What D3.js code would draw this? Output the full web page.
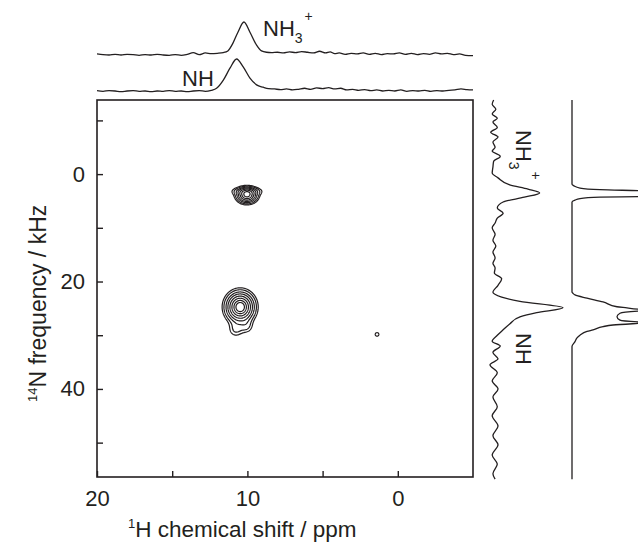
<!DOCTYPE html>
<html>
<head>
<meta charset="utf-8">
<script src="https://cdn.jsdelivr.net/npm/d3@7/dist/d3.min.js"></script>
<style>
  body { margin: 0; background: #fff; }
  text { font-family: "Liberation Sans", Arial, sans-serif; fill: #231f20; }
</style>
</head>
<body>
<script>

// axis ticks
var xTicks = [20, 10, 0]
var xMinor = [15, 5]
var yTicks = [0, 20, 40]
var yMinor = [-10, 10, 30, 50]

// 1H projection, NH3+ slice (ppm, intensity in % of peak)
var nh3TopPpm = [20, 19.6, 19.2, 18.8, 18.4, 18.0, 17.6, 17.2, 16.8, 16.4, 16.0, 15.6, 15.2, 14.8, 14.4, 14.0, 13.6, 13.2, 12.8, 12.4, 12.0, 11.6, 11.3, 10.96, 10.63, 10.23, 9.83, 9.39, 9.06, 8.73, 8.4, 8.0, 7.6, 7.2, 6.8, 6.4, 6.0, 5.6, 5.2, 4.8, 4.5, 4.2, 3.9, 3.5, 3.1, 2.7, 2.3, 1.9, 1.5, 1.1, 0.7, 0.3, -0.1, -0.5, -0.9, -1.3, -1.7, -2.1, -2.5, -2.9, -3.3, -3.7, -4.1, -4.5, -5.0]
var nh3TopInt = [6, 4, 3, 5, 3, 5, 4, 2, 4, 3, 5, 3, 2, 4, 2, 5, 10, 4, 9, 7, 8, 10, 15, 38, 70, 100, 70, 32, 15, 11, 10, 11, 9, 12, 10, 13, 11, 9, 14, 9, 12, 7, 9, 5, 8, 6, 9, 5, 8, 4, 7, 6, 9, 5, 8, 4, 7, 5, 9, 6, 8, 4, 6, 2, 1]

// 1H projection, NH slice
var nhTopPpm = [20, 19.6, 19.2, 18.8, 18.4, 18.0, 17.6, 17.2, 16.8, 16.4, 16.0, 15.6, 15.2, 14.8, 14.4, 14.0, 13.6, 13.2, 12.8, 12.4, 12.05, 11.6, 11.16, 10.72, 10.28, 9.83, 9.39, 8.95, 8.6, 8.2, 7.8, 7.4, 7.0, 6.6, 6.2, 5.8, 5.4, 5.0, 4.6, 4.2, 3.8, 3.4, 3.0, 2.6, 2.2, 1.8, 1.4, 1.0, 0.6, 0.2, -0.2, -0.6, -1.0, -1.4, -1.8, -2.2, -2.6, -3.0, -3.4, -3.8, -4.2, -4.6, -5.0]
var nhTopInt = [4, 2, 4, 3, 1, 3, 4, 2, 3, 1, 3, 2, 4, 2, 3, 1, 3, 4, 2, 5, 11, 35, 70, 97, 74, 41, 21, 14, 10, 9, 7, 9, 6, 8, 11, 8, 12, 10, 13, 9, 11, 6, 8, 5, 7, 4, 6, 3, 5, 3, 6, 2, 4, 3, 5, 2, 4, 3, 5, 6, 9, 7, 6]

// 14N projection, summed (kHz, intensity)
var sumKhz = [-13.8, -13.0, -12.1, -11.2, -10.4, -9.7, -8.7, -7.8, -6.9, -6.0, -5.0, -4.3, -3.3, -2.4, -1.3, -0.2, 0.7, 2.0, 2.8, 3.5, 4.3, 5.2, 6.3, 7.3, 8.2, 9.1, 10.0, 11.2, 12.3, 13.4, 14.5, 15.6, 16.6, 17.5, 18.4, 19.5, 20.7, 22.0, 22.9, 23.7, 24.9, 25.8, 26.6, 27.9, 29.0, 30.0, 31.1, 32.0, 33.2, 34.4, 35.5, 37.0, 38.5, 40.0, 41.5, 43.3, 45.0, 46.9, 48.7, 50.4, 52.3, 54.0, 55.8, 56.8]
var sumInt = [5, 3, 8, 3, 10, 4, 10, 1, 11, 4, 7, 3, 14, 5, 4, 3, 11, 27, 52, 68, 47, 18, 10, 18, 10, 7, 3, 7, 4, 8, 4, 7, 4, 7, 6, 16, 11, 4, 16, 41, 100, 64, 41, 27, 18, 10, 3, 14, 4, 11, 0, 10, 3, 11, 4, 10, 3, 11, 4, 11, 3, 10, 4, 7]

// 14N projection, 1D reference spectrum
var refKhz = [-13.8, 1.9, 2.2, 2.6, 2.9, 3.07, 3.63, 4.19, 4.3, 4.56, 4.84, 5.2, 21.95, 22.2, 22.5, 23.1, 23.8, 24.7, 24.9, 25.15, 25.3, 25.5, 25.9, 26.55, 27.2, 27.5, 27.6, 27.8, 28.1, 28.4, 29.0, 29.3, 30.0, 30.5, 31.2, 32.1, 56.8]
var refInt = [0, 0, 2, 8, 28, 66, 150, 66, 28, 8, 3, 0, 0, 1, 3, 15, 31, 45, 55, 66, 90, 66, 48, 45, 48, 66, 85, 66, 41, 31, 21, 15, 8, 5, 3, 0, 0]

// 2D peaks (ppm, kHz, widths, heights) and contour levels
var peakPpm = [10.05, 10.05, 10.5, 10.8, 10.05, 1.4]
var peakKhz = [3.9, 3.1, 24.7, 29.0, 28.4, 29.8]
var peakWPpm = [0.42, 0.75, 0.57, 0.35, 0.3, 0.17]
var peakWKhz = [0.9, 0.5, 1.7, 1.0, 0.9, 0.46]
var peakAmp = [62, 14, 78, 12, 10, 11]
var levels = [8.5, 13, 20, 28, 38, 49, 60, 69]

var ink = "#231f20"
var font = "Liberation Sans, Arial, sans-serif"

var svg = d3.select("body")
  .append("svg")
  .attr("width", 638)
  .attr("height", 546)

var x = d3.scaleLinear().domain([20, -5]).range([97, 473])
var y = d3.scaleLinear().domain([-13.8, 56.4]).range([100, 477])

// contour grid
var dp = 0.04, dk = 0.1
var nx = Math.round(25 / dp) + 1
var ny = Math.round(70.2 / dk) + 1
var grid = new Float64Array(nx * ny)
for (var j = 0; j < ny; j++) {
  var k = -13.8 + j * dk
  for (var i = 0; i < nx; i++) {
    var p = 20 - i * dp
    var s = 0
    for (var n = 0; n < peakAmp.length; n++) {
      var a = (p - peakPpm[n]) / peakWPpm[n]
      var b = (k - peakKhz[n]) / peakWKhz[n]
      s += peakAmp[n] * Math.exp(-0.5 * (a * a + b * b))
    }
    grid[i + j * nx] = s
  }
}

var toPlot = d3.geoTransform({
  point: function (gx, gy) {
    this.stream.point(x(20 - gx * dp), y(-13.8 + gy * dk))
  }
})

svg.append("g")
  .selectAll("path")
  .data(d3.contours().size([nx, ny]).thresholds(levels)(grid))
  .enter()
  .append("path")
  .attr("d", d3.geoPath(toPlot))
  .attr("fill", "none")
  .attr("stroke", ink)
  .attr("stroke-width", 1.2)

// frame
svg.append("rect")
  .attr("x", x(20)).attr("y", y(-13.8))
  .attr("width", x(-5) - x(20)).attr("height", y(56.4) - y(-13.8))
  .attr("fill", "none").attr("stroke", ink).attr("stroke-width", 1.6)

// ticks point inward
var xAxis = d3.axisBottom(x).tickValues(xTicks.concat(xMinor)).tickSize(-6)
  .tickFormat(function (d) { return xTicks.indexOf(d) >= 0 ? d : "" })
var gx = svg.append("g").attr("transform", "translate(0," + y(56.4) + ")").call(xAxis)
gx.select(".domain").remove()
gx.selectAll("line").attr("stroke", ink).attr("stroke-width", 1.4)
gx.selectAll("text").attr("font-size", 22).attr("dy", "1.2em").attr("fill", ink)
  .style("font-family", font)

var yAxis = d3.axisLeft(y).tickValues(yTicks.concat(yMinor)).tickSize(-6)
  .tickFormat(function (d) { return yTicks.indexOf(d) >= 0 ? d : "" })
var gy = svg.append("g").attr("transform", "translate(" + x(20) + ",0)").call(yAxis)
gy.select(".domain").remove()
gy.selectAll("line").attr("stroke", ink).attr("stroke-width", 1.4)
gy.selectAll("text").attr("font-size", 22).attr("x", -12).attr("fill", ink)
  .style("font-family", font)

// axis titles
var xt = svg.append("text").attr("x", 128).attr("y", 537).attr("font-size", 22.5)
xt.append("tspan").attr("font-size", 13).attr("dy", -9).text("1")
xt.append("tspan").attr("dy", 9).text("H chemical shift / ppm")

var yt = svg.append("text").attr("transform", "translate(46,402) rotate(-90)").attr("font-size", 23)
yt.append("tspan").attr("font-size", 13).attr("dy", -9).text("14")
yt.append("tspan").attr("dy", 9).text("N frequency / kHz")

// top projections
var yUp = d3.scaleLinear().domain([0, 100]).range([56, 22])
var yLo = d3.scaleLinear().domain([0, 100]).range([92, 58])

svg.append("path")
  .datum(d3.zip(nh3TopPpm, nh3TopInt))
  .attr("d", d3.line().x(function (d) { return x(d[0]) }).y(function (d) { return yUp(d[1]) }).curve(d3.curveMonotoneX))
  .attr("fill", "none").attr("stroke", ink).attr("stroke-width", 1.3)

svg.append("path")
  .datum(d3.zip(nhTopPpm, nhTopInt))
  .attr("d", d3.line().x(function (d) { return x(d[0]) }).y(function (d) { return yLo(d[1]) }).curve(d3.curveMonotoneX))
  .attr("fill", "none").attr("stroke", ink).attr("stroke-width", 1.3)

// right projections
var xSum = d3.scaleLinear().domain([0, 100]).range([490, 563])
var xRef = d3.scaleLinear().domain([0, 100]).range([572, 672])

svg.append("path")
  .datum(d3.zip(sumKhz, sumInt))
  .attr("d", d3.line().x(function (d) { return xSum(d[1]) }).y(function (d) { return y(d[0]) }).curve(d3.curveMonotoneY))
  .attr("fill", "none").attr("stroke", ink).attr("stroke-width", 1.3)

svg.append("path")
  .datum(d3.zip(refKhz, refInt))
  .attr("d", d3.line().x(function (d) { return xRef(d[1]) }).y(function (d) { return y(d[0]) }).curve(d3.curveMonotoneY))
  .attr("fill", "none").attr("stroke", ink).attr("stroke-width", 1.3)

// peak labels
var l1 = svg.append("text").attr("x", 263).attr("y", 36).attr("font-size", 22)
l1.append("tspan").text("NH")
l1.append("tspan").attr("font-size", 14).attr("dy", 7).text("3")
l1.append("tspan").attr("font-size", 14).attr("dy", -22).attr("dx", 2).text("+")

svg.append("text").attr("x", 182).attr("y", 86).attr("font-size", 22).text("NH")

var l2 = svg.append("text").attr("transform", "translate(516,130) rotate(90)").attr("font-size", 22)
l2.append("tspan").text("NH")
l2.append("tspan").attr("font-size", 14).attr("dy", 7).text("3")
l2.append("tspan").attr("font-size", 14).attr("dy", -22).attr("dx", 2).text("+")

svg.append("text").attr("transform", "translate(516,333) rotate(90)").attr("font-size", 22).text("NH")

</script>
</body>
</html>
